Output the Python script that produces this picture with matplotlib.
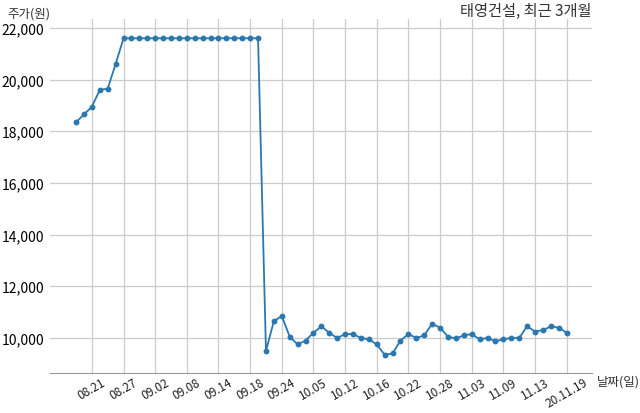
import numpy as np
import matplotlib.pyplot as plt
from matplotlib.ticker import FuncFormatter

plt.rcParams['font.family'] = ['Noto Sans CJK KR', 'DejaVu Sans']

# closing prices, one per trading day (last 3 months)
prices = [18350, 18650, 18950, 19600, 19650, 20600,
          21600, 21600, 21600, 21600, 21600, 21600, 21600, 21600, 21600,
          21600, 21600, 21600, 21600, 21600, 21600, 21600, 21600, 21600,
          9500, 10650, 10850, 10050, 9750, 9900, 10200, 10450, 10200,
          10000, 10150, 10150, 10000, 9950, 9750, 9350, 9400, 9900,
          10150, 10000, 10100, 10550, 10400, 10050, 9980, 10100, 10150,
          9950, 10000, 9870, 9950, 10000, 10000, 10450, 10250, 10300,
          10450, 10400, 10200]
tick_idx = list(range(2, 63, 4))
tick_labels = ['08.21', '08.27', '09.02', '09.08', '09.14', '09.18', '09.24',
               '10.05', '10.12', '10.16', '10.22', '10.28', '11.03', '11.09',
               '11.13', '20.11.19']
yticks = [10000, 12000, 14000, 16000, 18000, 20000, 22000]

fig = plt.figure(figsize=(6.4, 4.14), dpi=100)
ax = fig.add_axes([0.078, 0.097, 0.847, 0.855])

x = np.arange(len(prices))
ax.plot(x, prices, color='#2b78b0', lw=1.3, marker='o', ms=3.2)

ax.set_xlim(-3.3, 65.2)
ax.set_ylim(8650, 22350)
ax.set_xticks(tick_idx)
ax.set_xticklabels(tick_labels, rotation=30, fontsize=8.5, color='#222222')
ax.set_yticks(yticks)
ax.yaxis.set_major_formatter(FuncFormatter(lambda v, p: format(int(v), ',')))
ax.tick_params(axis='y', labelsize=10, length=0, pad=4)
ax.tick_params(axis='x', length=0, pad=2)

ax.grid(True, color='#cccccc', lw=0.9)
ax.set_axisbelow(True)
for s in ['left', 'top', 'right']:
    ax.spines[s].set_visible(False)
ax.spines['bottom'].set_color('#999999')

fig.text(0.012, 0.965, '주가(원)', fontsize=9, color='#333333', va='center')
fig.text(0.932, 0.078, '날짜(일)', fontsize=9, color='#333333', va='center')
fig.text(0.925, 0.972, '태영건설, 최근 3개월', fontsize=11, color='#333333',
         ha='right', va='center')

fig.savefig('out.png', dpi=100)
